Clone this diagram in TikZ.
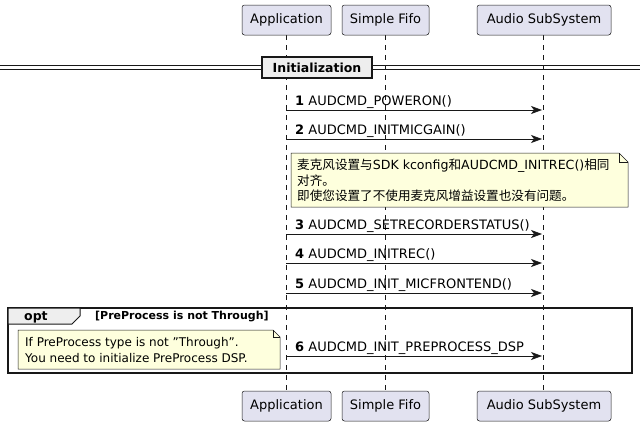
\documentclass[tikz,border=0pt]{standalone}
\usepackage{fontspec}
\setmainfont{DejaVu Sans}
\newfontfamily\cjk{Noto Sans CJK SC}
\usetikzlibrary{arrows.meta}
\definecolor{partfill}{HTML}{E2E2F0}
\definecolor{notefill}{HTML}{FEFFDD}
\definecolor{ln}{HTML}{181818}
\definecolor{grpfill}{HTML}{EEEEEE}
\tikzset{
  part/.style={draw=ln, fill=partfill, rounded corners=2.5pt, minimum height=30pt, inner sep=0pt, font=\fontsize{13}{15}\selectfont, line width=0.5pt},
  life/.style={draw=ln, dash pattern=on 5pt off 5pt, line width=0.5pt},
  msg/.style={draw=ln, line width=0.7pt, -{Stealth[length=11pt,width=8pt,inset=3pt]}},
  lbl/.style={anchor=base west, inner sep=0pt, font=\fontsize{13}{15}\selectfont},
  notetxt/.style={anchor=base west, inner sep=0pt, font=\fontsize{12}{14}\selectfont},
}
\begin{document}
\begin{tikzpicture}[x=1pt,y=-1pt]
\useasboundingbox (0,0) rectangle (640,426);
% lifelines
\coordinate (a1) at (286,35); \coordinate (a2) at (286,390);
\coordinate (f1) at (385,35); \coordinate (f2) at (385,390);
\coordinate (s1) at (543,35); \coordinate (s2) at (543,390);
\draw[life] (a1) -- (a2);
\draw[life] (f1) -- (f2);
\draw[life] (s1) -- (s2);
% participants
\node[part, minimum width=89pt] (appT) at (286.5,20) {Application};
\node[part, minimum width=87pt] (fifoT) at (385.5,20) {Simple Fifo};
\node[part, minimum width=134pt] (ssT) at (544,20) {Audio SubSystem};
\node[part, minimum width=89pt] (appB) at (286.5,406) {Application};
\node[part, minimum width=87pt] (fifoB) at (385.5,406) {Simple Fifo};
\node[part, minimum width=134pt] (ssB) at (544,406) {Audio SubSystem};
% divider
\draw[ln, line width=0.7pt] (0,65.5) -- (640,65.5);
\draw[ln, line width=0.7pt] (0,69.5) -- (640,69.5);
\node[draw=ln, fill=grpfill, line width=1.5pt, minimum width=110pt, minimum height=21pt, inner sep=0pt, font=\bfseries\fontsize{12.5}{14}\selectfont] (init) at (317,67.5) {Initialization};
% messages
\coordinate (m1a) at (286,110); \coordinate (m1b) at (542,110);
\draw[msg] (m1a) -- (m1b);
\node[lbl] (l1) at (295,105) {\textbf{1} AUDCMD\_POWERON()};
\coordinate (m2a) at (286,139); \coordinate (m2b) at (542,139);
\draw[msg] (m2a) -- (m2b);
\node[lbl] (l2) at (295,134) {\textbf{2} AUDCMD\_INITMICGAIN()};
% note 1
\draw[ln, fill=notefill, line width=0.5pt] (291,153) -- (619,153) -- (628,162) -- (628,207) -- (291,207) -- cycle;
\draw[ln, line width=0.5pt] (619,153) -- (619,162) -- (628,162);
\node[notetxt, font=\fontsize{12.6}{15}\selectfont] (n1a) at (297,169) {{\cjk 麦克风设置与}SDK kconfig{\cjk 和}AUDCMD\_INITREC(){\cjk 相同}};
\node[notetxt, font=\fontsize{12.6}{15}\selectfont] (n1b) at (297,185) {\cjk 对齐。};
\node[notetxt, font=\fontsize{12.6}{15}\selectfont] (n1c) at (297,200) {\cjk 即使您设置了不使用麦克风增益设置也没有问题。};
\coordinate (m3a) at (286,234); \coordinate (m3b) at (542,234);
\draw[msg] (m3a) -- (m3b);
\node[lbl] (l3) at (295,229) {\textbf{3} AUDCMD\_SETRECORDERSTATUS()};
\coordinate (m4a) at (286,263); \coordinate (m4b) at (542,263);
\draw[msg] (m4a) -- (m4b);
\node[lbl] (l4) at (295,258) {\textbf{4} AUDCMD\_INITREC()};
\coordinate (m5a) at (286,293); \coordinate (m5b) at (542,293);
\draw[msg] (m5a) -- (m5b);
\node[lbl] (l5) at (295,288) {\textbf{5} AUDCMD\_INIT\_MICFRONTEND()};
% opt frame
\draw[ln, line width=1.5pt] (8,308) rectangle (632,373);
\draw[ln, fill=grpfill, line width=1pt] (8,308) -- (80,308) -- (80,316) -- (72,324) -- (8,324) -- cycle;
\node[anchor=base west, inner sep=0pt, font=\bfseries\fontsize{12.5}{14}\selectfont] (optl) at (24,320) {opt};
\node[anchor=base west, inner sep=0pt, font=\bfseries\fontsize{11}{13}\selectfont] (guard) at (95,319) {[PreProcess is not Through]};
% note 2
\draw[ln, fill=notefill, line width=0.5pt] (18,330) -- (273,330) -- (280,337) -- (280,369) -- (18,369) -- cycle;
\draw[ln, line width=0.5pt] (273,330) -- (273,337) -- (280,337);
\node[notetxt] (n2a) at (25,346) {If PreProcess type is not "Through".};
\node[notetxt] (n2b) at (25,362) {You need to initialize PreProcess DSP.};
\coordinate (m6a) at (286,356); \coordinate (m6b) at (542,356);
\draw[msg] (m6a) -- (m6b);
\node[lbl] (l6) at (295,351) {\textbf{6} AUDCMD\_INIT\_PREPROCESS\_DSP};
\end{tikzpicture}
\end{document}
